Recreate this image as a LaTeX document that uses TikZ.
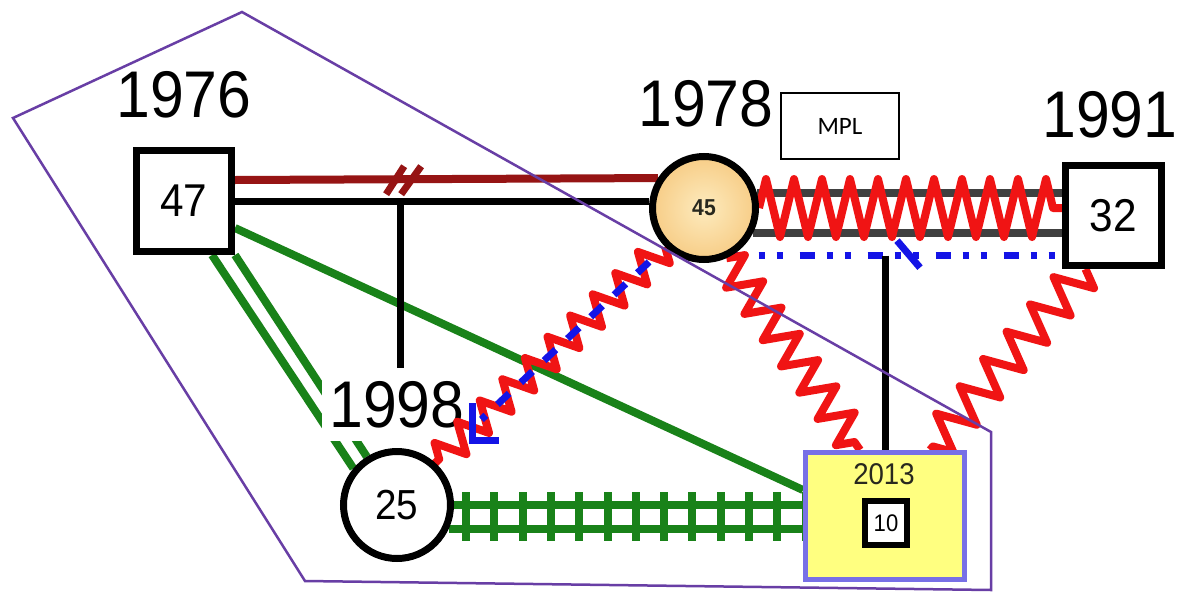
\documentclass[tikz,border=0pt]{standalone}
\usepackage{fontspec}
\setmainfont{Liberation Sans}
\newfontfamily\numf[FakeStretch=0.92]{Liberation Sans}
\newfontfamily\mplf{Carlito}
\usetikzlibrary{decorations.pathmorphing,calc}
\definecolor{dred}{RGB}{150,20,20}
\definecolor{zred}{RGB}{240,20,20}
\definecolor{grn}{RGB}{25,130,25}
\definecolor{blu}{RGB}{20,20,230}
\definecolor{gry}{RGB}{64,64,64}
\definecolor{purp}{RGB}{104,62,165}
\definecolor{yel}{RGB}{255,255,128}
\definecolor{lav}{RGB}{120,112,230}
\definecolor{txt}{RGB}{40,40,30}
\definecolor{orin}{RGB}{253,235,190}
\definecolor{orout}{RGB}{247,205,135}
\pgfdeclarelayer{gl}
\pgfdeclarelayer{bg}
\pgfsetlayers{gl,bg,main}
\begin{document}
\begin{tikzpicture}[x=1pt,y=-1pt,
  box/.style={draw=black,line width=7pt,fill=white,inner sep=0pt},
  yr/.style={font=\numf\fontsize{66}{66}\selectfont,inner sep=0pt},
  num/.style={font=\numf\fontsize{46}{46}\selectfont},
  gr/.style={draw=grn,line width=8pt},
  blk/.style={draw=black,line width=7pt},
  zz/.style 2 args={draw=zred,line width=8pt,line join=round,decorate,decoration={zigzag,segment length=#1,amplitude=#2}},
  bdash/.style={draw=blu,line width=7pt},
]
\useasboundingbox (0,0) rectangle (1184,600);

% nodes
\node[box,num,minimum width=95pt,minimum height=101pt] (n47) at (184,201) {47};
\node[circle,draw=black,line width=7pt,minimum size=103pt,inner sep=0pt,inner color=orin,outer color=orout,font=\numf\bfseries\fontsize{23}{23}\selectfont,text=txt] (n45) at (704,208) {45};
\node[box,num,minimum width=96pt,minimum height=100pt] (n32) at (1113.5,215.5) {32};
\node[circle,draw=black,line width=7pt,minimum size=107pt,inner sep=0pt,fill=white,font=\numf\fontsize{42}{42}\selectfont] (n25) at (397,505) {25};
\node[draw=lav,line width=5pt,fill=yel,minimum width=159pt,minimum height=127pt,inner sep=0pt] (n2013) at (885,516) {};
\node[inner sep=0pt,text=txt,font=\numf\fontsize{30}{30}\selectfont] (t2013) at (884,474) {2013};
\node[box,line width=6pt,minimum width=42pt,minimum height=44pt,font=\numf\fontsize{24}{24}\selectfont] (n10) at (886,523) {10};
\node[draw=black,line width=2pt,fill=white,minimum width=118pt,minimum height=66pt,inner sep=0pt,font=\mplf\fontsize{25}{25}\selectfont] (mpl) at (840,126) {MPL};
\node[yr] (l1976) at (184,95) {1976};
\node[yr] (l1978) at (706,104) {1978};
\node[yr] (l1991) at (1110,115) {1991};

% background, green connectors and the 1998 label over them
\begin{pgfonlayer}{gl}
\fill[white] (0,0) rectangle (1184,600);
\draw[gr] ([xshift=28pt]n47.south) -- (n25.140);
\draw[gr] (n47.south east) -- (n25.122);
\draw[gr] ([yshift=-27pt]n47.east) -- ([yshift=26pt]n2013.west);
\draw[gr] (n25.east) -- (n25.east -| n2013.west);
\draw[gr] (n25.-25) -- (n25.-25 -| n2013.west);
\foreach \k in {0,...,12}
  \draw[gr] ($(n25.east)+(12+28.3*\k,-13)$) -- ++(0,49);
\node[yr,fill=white,inner xsep=7pt,inner ysep=13pt] (l1998) at (397,405) {1998};
\end{pgfonlayer}

\begin{pgfonlayer}{bg}
% 1976 -> 1978
\draw[draw=dred,line width=8pt] ([yshift=21pt]n47.east) -- (n45.147)
  coordinate[pos=0.40] (brk);
\draw[blk] (n47.east) -- (n47.east -| n45.west) coordinate[pos=0.40] (j1);
\draw[draw=dred,line width=7pt] ($(brk)+(-18,15)$) -- ($(brk)+(0,-13)$);
\draw[draw=dred,line width=7pt] ($(brk)+(-3,15)$) -- ($(brk)+(17,-13)$);
\draw[blk] (j1) -- (j1 |- l1998.north);
% 1978 -> 1991
\draw[draw=gry,line width=8pt] (n45.16) -- (n45.16 -| n32.west);
\draw[draw=gry,line width=8pt] (n45.-27) -- (n45.-27 -| n32.west);
\draw[bdash,dash pattern=on 15pt off 12pt on 6pt off 12pt on 6pt off 17pt] (n45.-60) -- (n45.-60 -| n32.west);
\coordinate (j2) at (n45.-60 -| n2013.north);
\draw[blk] (j2) -- (n2013.north);
\draw[bdash] ($(j2)+(12,-15)$) -- ++(23,27);
\draw[zz={28pt}{29pt}] (n45.east) -- (n45.east -| n32.west);
% zigzags to 1998 and 2013
\draw[zz={31pt}{15pt}] (n45.225) -- ([xshift=-4pt]n25.45) coordinate[pos=0.832] (bq);
\draw[bdash,dash pattern=on 16pt off 16pt,shorten <=22pt,shorten >=66pt] (n45.225) -- ([xshift=-4pt]n25.45);
\draw[bdash] ($(bq)+(0,-25)$) -- ($(bq)+(0,12)$) -- ($(bq)+(27,12)$);
\draw[zz={32pt}{17pt}] (n45.-66) -- ([xshift=-25pt]n2013.north);
\draw[zz={36pt}{19pt}] ([xshift=-28pt]n32.south) -- ([xshift=45pt]n2013.north);
\end{pgfonlayer}

% enclosing polygon
\draw[draw=purp,line width=2.5pt,line join=miter] (13,118) -- (242,12) -- (991,432) -- (991,590) -- (305,581) -- cycle;
\end{tikzpicture}
\end{document}
